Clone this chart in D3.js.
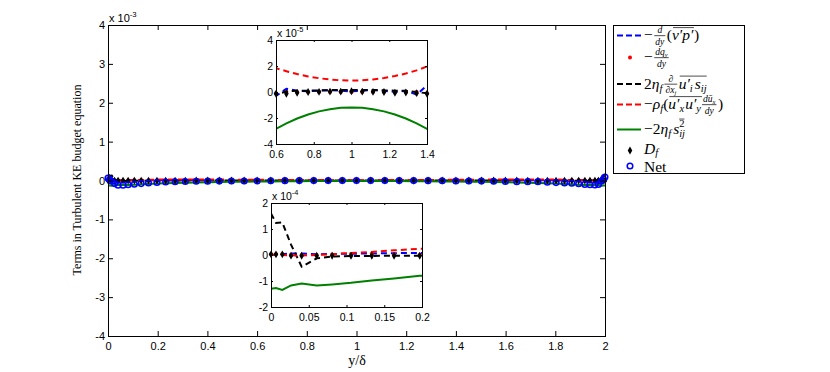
<!DOCTYPE html>
<html><head><meta charset="utf-8">
<script src="https://cdn.jsdelivr.net/npm/d3@7"></script>
<style>body{margin:0;background:#fff} svg{display:block}</style>
</head><body><svg id="c" width="830" height="372"></svg>
<script>
// ---------------- DATA (y/δ grid; all budget terms in units of 1e-5) ----------------
const yPos = [0, 0.0066, 0.015, 0.0265, 0.0406, 0.0605, 0.081, 0.106, 0.1335, 0.163, 0.197, 0.232, 0.270, 0.311, 0.355, 0.401, 0.448, 0.497, 0.548, 0.600, 0.655, 0.712, 0.770, 0.828, 0.886, 0.943, 1.0,
  1.057, 1.114, 1.172, 1.230, 1.288, 1.345, 1.400, 1.452, 1.503, 1.552, 1.599, 1.645, 1.689, 1.730, 1.768, 1.803, 1.837, 1.8665, 1.894, 1.919, 1.9395, 1.9594, 1.9735, 1.985, 1.9934, 2.0];
// -d/dy (v'p')
const pressureDiff = [0.0, 0.1, 0.3, 0.6, 0.6, 0.3, 0.4, 0.5, 0.6, 0.7, 0.8, 0.8, 0.7, 0.6, 0.4, 0.2, 0.0, -0.1, -0.2, -0.3, 0.25, 0.1, 0.05, 0.1, 0.15, 0.1, 0.05,
  0.1, 0.15, 0.1, 0.0, 0.1, -0.2, 0.5, 0.2, 0.0, 0.0, 0.2, 0.4, 0.6, 0.7, 0.8, 0.8, 0.7, 0.6, 0.5, 0.4, 0.3, 0.6, 0.6, 0.3, 0.1, 0.0];
// -dq_y/dy
const heatFlux = [0.3, 0.3, 0.3, 0.1, 0.0, 0.0, 0.2, 0.4, 0.5, 0.2, 0.1, 0.1, 0.1, 0.05, 0.05, 0.0, 0.0, 0.0, 0.0, -0.1, 0.0, 0.0, 0.0, 0.0, 0.0, 0.0, 0.0,
  0.0, 0.0, 0.0, 0.0, 0.0, 0.0, -0.1, 0.0, 0.0, 0.0, 0.0, 0.05, 0.05, 0.1, 0.1, 0.1, 0.2, 0.5, 0.4, 0.2, 0.0, 0.0, 0.1, 0.3, 0.3, 0.3];
// 2 eta_f d/dx_j (u_i' s_ij)
const viscDiff = [16.0, 12.3, 12.5, 4.0, -4.5, -1.3, -0.6, -0.4, -0.35, -0.3, -0.3, -0.2, -0.1, 0.0, 0.05, 0.1, 0.1, 0.1, 0.1, -0.2, 0.05, 0.1, 0.1, 0.12, 0.15, 0.15, 0.15,
  0.15, 0.15, 0.12, 0.1, 0.1, 0.0, -0.1, 0.1, 0.1, 0.1, 0.1, 0.05, 0.0, -0.1, -0.2, -0.3, -0.3, -0.35, -0.4, -0.6, -1.3, -4.5, 4.0, 12.5, 12.3, 16.0];
// -rho_f (u_x' u_y' dU/dy)
const production = [0.2, 0.1, 0.0, -0.1, -0.2, 0.0, 0.3, 0.8, 1.2, 1.8, 2.4, 2.6, 2.7, 2.7, 2.6, 2.5, 2.35, 2.2, 2.0, 1.83, 1.6, 1.38, 1.2, 1.06, 0.96, 0.9, 0.88,
  0.9, 0.97, 1.08, 1.23, 1.42, 1.66, 1.96, 2.1, 2.3, 2.45, 2.6, 2.7, 2.75, 2.7, 2.6, 2.4, 1.8, 1.2, 0.8, 0.3, 0.0, -0.2, -0.1, 0.0, 0.1, 0.2];
// -2 eta_f s_ij^2
const dissipation = [-13.0, -12.7, -13.4, -11.7, -11.0, -11.7, -11.3, -10.7, -9.8, -9.0, -8.0, -7.3, -6.6, -5.9, -5.2, -4.6, -4.0, -3.5, -3.1, -2.83, -2.41, -2.04, -1.73, -1.49, -1.32, -1.22, -1.19,
  -1.22, -1.32, -1.49, -1.73, -2.04, -2.42, -2.84, -3.1, -3.5, -4.0, -4.6, -5.2, -5.9, -6.6, -7.3, -8.0, -9.0, -9.8, -10.7, -11.3, -11.7, -11.0, -11.7, -13.4, -12.7, -13.0];
// D_f
const Df = [0.25, 0.25, 0.25, -0.25, -0.3, -0.3, -0.3, -0.3, -0.3, -0.3, -0.3, -0.25, -0.2, -0.2, -0.15, -0.15, -0.15, -0.15, -0.15, -0.14, -0.14, -0.06, 0.0, 0.01, 0.03, 0.03, 0.06,
  0.03, 0.01, 0.0, -0.06, -0.04, -0.09, -0.14, -0.15, -0.15, -0.15, -0.15, -0.15, -0.2, -0.2, -0.25, -0.3, -0.3, -0.3, -0.3, -0.3, -0.3, -0.3, -0.25, 0.25, 0.25, 0.25];
// Net
const net = [6, 3, -2, -8, -12, -12, -11, -9.5, -8, -6.5, -5, -4, -3.2, -2.5, -2, -1.7, -1.5, -1.2, -1.1, -1.1, -0.5, -0.4, -0.3, -0.2, -0.1, -0.1, -0.1,
  -0.1, -0.1, -0.2, -0.3, -0.4, -0.5, -1.1, -1.3, -1.6, -2.0, -2.4, -3.0, -3.0, -3.0, -4.6, -5.4, -6.2, -7.0, -8.5, -10.0, -10.8, -11.5, -10.0, -2, 4, 9];

const mainXTicks = [0, 0.2, 0.4, 0.6, 0.8, 1, 1.2, 1.4, 1.6, 1.8, 2];
const mainXLabels = ["0", "0.2", "0.4", "0.6", "0.8", "1", "1.2", "1.4", "1.6", "1.8", "2"];
const mainYTicks = [-4, -3, -2, -1, 0, 1, 2, 3, 4];
const mainYLabels = ["-4", "-3", "-2", "-1", "0", "1", "2", "3", "4"];
const in1XTicks = [0.6, 0.8, 1, 1.2, 1.4];
const in1XLabels = ["0.6", "0.8", "1", "1.2", "1.4"];
const in1YTicks = [-4, -2, 0, 2, 4];
const in1YLabels = ["-4", "-2", "0", "2", "4"];
const in2XTicks = [0, 0.05, 0.1, 0.15, 0.2];
const in2XLabels = ["0", "0.05", "0.1", "0.15", "0.2"];
const in2YTicks = [-2, -1, 0, 1, 2];
const in2YLabels = ["-2", "-1", "0", "1", "2"];

// ---------------- DRAWING ----------------
const svg = d3.select('#c');
const SANS = '"Liberation Sans", Arial, Helvetica, sans-serif';
const SERIF = '"Liberation Serif", "Times New Roman", serif';
const C = {blue: '#0000ff', red: '#ff0000', black: '#000000', green: '#008000'};
const defs = svg.append('defs');

function panel(cfg) {
  const {id, x0, x1, y0, y1, xd, yd, f, xt, xl, yt, yl, tl, expo, showNet, xPad, fs} = cfg;
  const x = d3.scaleLinear().domain(xd).range([x0, x1]);
  const y = d3.scaleLinear().domain(yd).range([y1, y0]);
  const g = svg.append('g');
  g.append('rect').attr('x', x0).attr('y', y0).attr('width', x1 - x0).attr('height', y1 - y0).attr('fill', '#fff');
  defs.append('clipPath').attr('id', id).append('rect')
    .attr('x', x0).attr('y', y0).attr('width', x1 - x0).attr('height', y1 - y0);
  const p = g.append('g').attr('clip-path', `url(#${id})`);
  const inX = i => yPos[i] >= xd[0] - 1e-9 && yPos[i] <= xd[1] + 1e-9;
  const line = arr => d3.line().x((d, i) => x(yPos[i])).y(d => y(d * f))(arr);
  p.append('path').attr('d', line(pressureDiff)).attr('fill', 'none')
    .attr('stroke', C.blue).attr('stroke-width', 2).attr('stroke-dasharray', '6,4');
  g.append('g').selectAll('circle').data(heatFlux.map((v, i) => [i, v]).filter(d => inX(d[0]))).join('circle')
    .attr('cx', d => x(yPos[d[0]])).attr('cy', d => y(d[1] * f)).attr('r', 2).attr('fill', C.red);
  const g2 = g.append('g').attr('clip-path', `url(#${id})`);
  g2.append('path').attr('d', line(viscDiff)).attr('fill', 'none').attr('stroke', C.black).attr('stroke-width', 2).attr('stroke-dasharray', '6,4');
  g2.append('path').attr('d', line(production)).attr('fill', 'none').attr('stroke', C.red).attr('stroke-width', 2).attr('stroke-dasharray', '6,4');
  g2.append('path').attr('d', line(dissipation)).attr('fill', 'none').attr('stroke', C.green).attr('stroke-width', 2);
  const dia = d3.symbol().type(d3.symbolDiamond).size(18);
  g.append('g').selectAll('path').data(Df.map((v, i) => [i, v]).filter(d => inX(d[0]))).join('path')
    .attr('d', dia).attr('transform', d => `translate(${x(yPos[d[0]])},${y(d[1] * f)})`).attr('fill', C.black);
  if (showNet) {
    g.append('g').selectAll('circle').data(net.map((v, i) => [i, v])).join('circle')
      .attr('cx', d => x(yPos[d[0]])).attr('cy', d => y(d[1] * f)).attr('r', 2.8)
      .attr('fill', 'none').attr('stroke', C.blue).attr('stroke-width', 1.5);
  }
  // axes
  const styleAxis = sel => {
    sel.select('.domain').remove();
    sel.selectAll('line').attr('stroke', '#000');
    sel.selectAll('text').attr('font-family', SANS).attr('font-size', fs).attr('fill', '#000');
  };
  g.append('g').attr('transform', `translate(0,${y1})`)
    .call(d3.axisBottom(x).tickValues(xt).tickFormat((d, i) => xl[i]).tickSizeInner(-tl).tickSizeOuter(0).tickPadding(xPad))
    .call(styleAxis);
  g.append('g').attr('transform', `translate(0,${y0})`)
    .call(d3.axisTop(x).tickValues(xt).tickFormat('').tickSizeInner(-tl).tickSizeOuter(0)).call(styleAxis);
  g.append('g').attr('transform', `translate(${x0},0)`)
    .call(d3.axisLeft(y).tickValues(yt).tickFormat((d, i) => yl[i]).tickSizeInner(-tl).tickSizeOuter(0).tickPadding(3))
    .call(styleAxis);
  g.append('g').attr('transform', `translate(${x1},0)`)
    .call(d3.axisRight(y).tickValues(yt).tickFormat('').tickSizeInner(-tl).tickSizeOuter(0)).call(styleAxis);
  g.append('rect').attr('x', x0 + 0.5).attr('y', y0 + 0.5).attr('width', x1 - x0).attr('height', y1 - y0)
    .attr('fill', 'none').attr('stroke', '#000').attr('stroke-width', 1);
  // exponent label
  const t = g.append('text').attr('x', x0 + 1).attr('y', y0 - 3).attr('font-family', SANS).attr('font-size', fs).attr('fill', '#000');
  t.append('tspan').text('x 10');
  t.append('tspan').attr('font-size', fs * 0.7).attr('dy', -5).text(expo);
  return {x, y};
}

panel({id: 'cm', x0: 108, x1: 605, y0: 25, y1: 336, xd: [0, 2], yd: [-4, 4], f: 0.01,
  xt: mainXTicks, xl: mainXLabels, yt: mainYTicks, yl: mainYLabels, tl: 5, expo: '-3', showNet: true, xPad: 6, fs: 11});
panel({id: 'c1', x0: 276, x1: 427, y0: 40, y1: 144, xd: [0.6, 1.4], yd: [-4, 4], f: 1,
  xt: in1XTicks, xl: in1XLabels, yt: in1YTicks, yl: in1YLabels, tl: 2, expo: '-5', showNet: false, xPad: 7, fs: 10.5});
panel({id: 'c2', x0: 271, x1: 422, y0: 203, y1: 307, xd: [0, 0.2], yd: [-2, 2], f: 0.1,
  xt: in2XTicks, xl: in2XLabels, yt: in2YTicks, yl: in2YLabels, tl: 2, expo: '-4', showNet: false, xPad: 7, fs: 10.5});

// axis titles
svg.append('text').attr('transform', 'translate(81,180) rotate(-90)').attr('text-anchor', 'middle')
  .attr('font-family', SERIF).attr('font-size', 12).text('Terms in Turbulent KE budget equation');
svg.append('text').attr('x', 357).attr('y', 365).attr('text-anchor', 'middle')
  .attr('font-family', SERIF).attr('font-size', 14).text('y/δ');

// ---------------- LEGEND ----------------
const lg = svg.append('g');
lg.append('rect').attr('x', 613.5).attr('y', 25.5).attr('width', 131).attr('height', 148)
  .attr('fill', '#fff').attr('stroke', '#000').attr('stroke-width', 1);

function txt(g, x, y, s, size, it) {
  const t = g.append('text').attr('x', x).attr('y', y).text(s)
    .attr('font-family', SERIF).attr('font-size', size).attr('font-style', it ? 'italic' : 'normal');
  return t.node().getComputedTextLength();
}
function render(g, toks, x, b, size) {
  let cx = x;
  for (const tk of toks) {
    if (tk.frac) {
      const fs = size * 0.62;
      const gn = g.append('g'), gd = g.append('g');
      const wn = render(gn, tk.frac[0], 0, 0, fs);
      const wd = render(gd, tk.frac[1], 0, 0, fs);
      const w = Math.max(wn, wd) + 2;
      const a = b - size * 0.28;
      gn.attr('transform', `translate(${cx + (w - wn) / 2},${a - 2.6})`);
      gd.attr('transform', `translate(${cx + (w - wd) / 2},${a + fs * 0.89 + 0.3})`);
      g.append('line').attr('x1', cx).attr('x2', cx + w).attr('y1', a).attr('y2', a).attr('stroke', '#000').attr('stroke-width', 0.7);
      cx += w + 1.5;
    } else if (tk.over) {
      const w = render(g, tk.over, cx, b, size);
      g.append('line').attr('x1', cx + 1).attr('x2', cx + w).attr('y1', b - size * 0.8).attr('y2', b - size * 0.8)
        .attr('stroke', '#000').attr('stroke-width', 0.7);
      cx += w;
    } else if (tk.ss) {
      const fs = size * 0.68;
      const w1 = txt(g, cx, b - size * 0.42, tk.ss[0], fs, false);
      g.append('line').attr('x1', cx).attr('x2', cx + w1).attr('y1', b - size * 0.42 - fs * 0.8).attr('y2', b - size * 0.42 - fs * 0.8)
        .attr('stroke', '#000').attr('stroke-width', 0.7);
      const w2 = txt(g, cx, b + size * 0.2, tk.ss[1], fs, true);
      cx += Math.max(w1, w2);
    } else {
      const sc = tk.sub || tk.sup;
      const fs = sc ? size * 0.68 : size;
      const yy = b + (tk.sub ? size * (tk.lo || 0.2) : tk.sup ? -size * 0.4 : 0);
      cx += txt(g, cx, yy, tk.s, fs, tk.it) + (tk.sp || 0);
    }
  }
  return cx - x;
}

const LS = 15.5;
const legendEntries = [
  {toks: [{s: '−', sp: 1.5}, {frac: [[{s: 'd', it: 1}], [{s: 'dy', it: 1}]]}, {s: '('}, {over: [{s: 'v′p′', it: 1, sp: 0.5}]}, {s: ')'}], b: 40, kind: 'dash', col: C.blue},
  {toks: [{s: '−', sp: 1.5}, {frac: [[{s: 'dq', it: 1}, {s: 'y', it: 1, sub: 1}], [{s: 'dy', it: 1}]]}], b: 62, kind: 'dot', col: C.red},
  {toks: [{s: '2'}, {s: 'η', it: 1}, {s: 'f', it: 1, sub: 1, sp: 2}, {frac: [[{s: '∂'}], [{s: '∂x', it: 1}, {s: 'j', it: 1, sub: 1}]]},
    {over: [{s: 'u′', it: 1}, {s: 'i', it: 1, sub: 1, sp: 2}, {s: 's', it: 1}, {s: 'ij', it: 1, sub: 1}]}], b: 88.5, kind: 'dash', col: C.black},
  {toks: [{s: '−'}, {s: 'ρ', it: 1}, {s: 'f', it: 1, sub: 1}, {s: '('}, {over: [{s: 'u′', it: 1}, {s: 'x', it: 1, sub: 1, sp: 1}, {s: 'u′', it: 1}, {s: 'y', it: 1, sub: 1, sp: 1}]},
    {frac: [[{s: 'dū', it: 1}, {s: 'x', it: 1, sub: 1}], [{s: 'dy', it: 1}]]}, {s: ')'}], b: 109, kind: 'dash', col: C.red},
  {toks: [{s: '−2'}, {s: 'η', it: 1}, {s: 'f', it: 1, sub: 1, sp: 2}, {s: 's', it: 1}, {ss: ['2', 'ij']}], b: 134, kind: 'solid', col: C.green},
  {toks: [{s: 'D', it: 1}, {s: 'f', it: 1, sub: 1, lo: 0.12}], b: 154, kind: 'diamond', col: C.black},
  {toks: [{s: 'Net'}], b: 171.5, kind: 'circle', col: C.blue}
];
legendEntries.forEach(e => {
  const a = e.b - 4.5;
  if (e.kind === 'dash' || e.kind === 'solid') {
    const l = lg.append('line').attr('x1', 617).attr('x2', 641).attr('y1', a).attr('y2', a)
      .attr('stroke', e.col).attr('stroke-width', 2);
    if (e.kind === 'dash') l.attr('stroke-dasharray', '6,3');
  } else if (e.kind === 'dot') {
    lg.append('circle').attr('cx', 630).attr('cy', a).attr('r', 2).attr('fill', e.col);
  } else if (e.kind === 'diamond') {
    lg.append('path').attr('d', d3.symbol().type(d3.symbolDiamond).size(18)).attr('transform', `translate(630,${a + 1})`).attr('fill', e.col);
  } else {
    lg.append('circle').attr('cx', 630).attr('cy', a - 1).attr('r', 2.8).attr('fill', 'none').attr('stroke', e.col).attr('stroke-width', 1.5);
  }
  render(lg, e.toks, 644, e.b, LS);
});
</script></body></html>
